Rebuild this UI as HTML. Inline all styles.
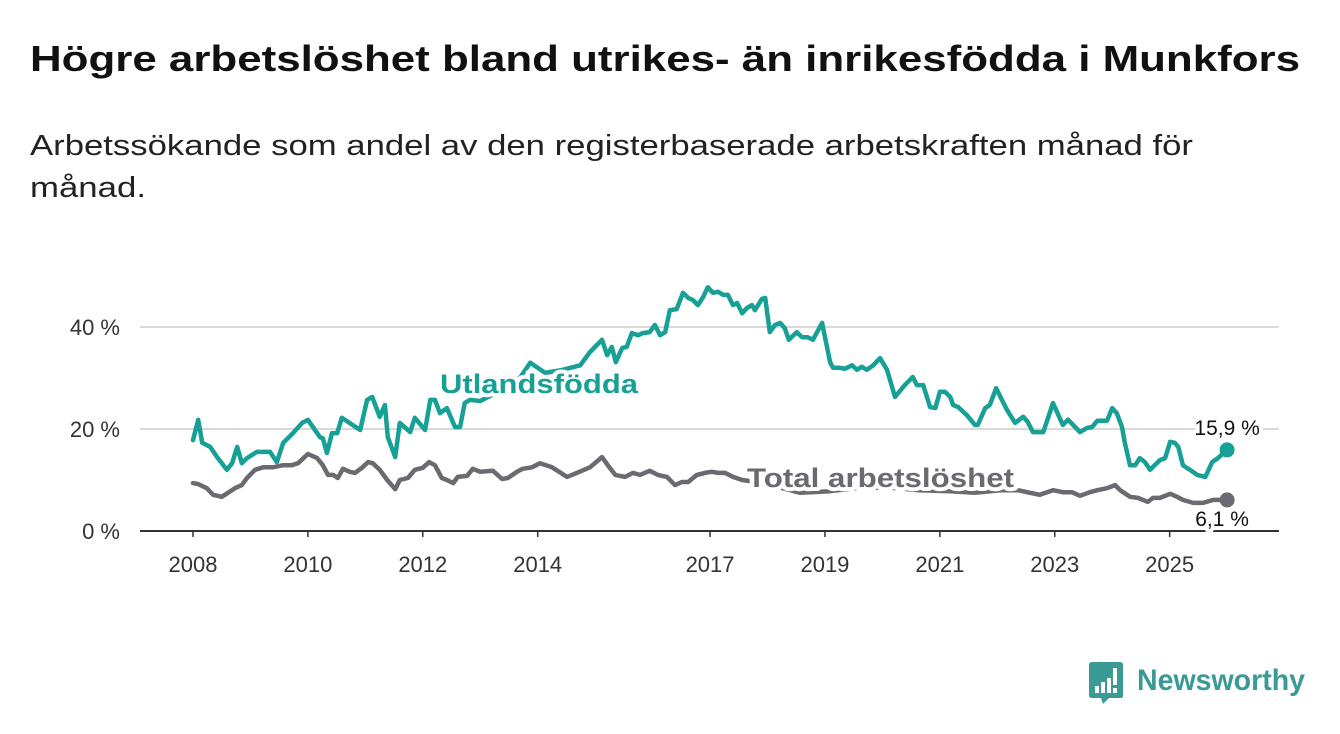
<!DOCTYPE html>
<html><head><meta charset="utf-8"><style>
html,body{margin:0;padding:0;background:#fff;}
svg{display:block;font-family:"Liberation Sans",sans-serif;}
</style></head><body>
<svg width="1340" height="734" viewBox="0 0 1340 734">
<text x="30" y="71" font-size="36" font-weight="bold" fill="#111" textLength="1270" lengthAdjust="spacingAndGlyphs">Högre arbetslöshet bland utrikes- än inrikesfödda i Munkfors</text>
<text x="30" y="155" font-size="29" fill="#222" textLength="1163" lengthAdjust="spacingAndGlyphs">Arbetssökande som andel av den registerbaserade arbetskraften månad för</text>
<text x="30" y="197" font-size="29" fill="#222" textLength="116" lengthAdjust="spacingAndGlyphs">månad.</text>
<g id="grid"></g>
<g id="series"></g>
<g id="labels"></g>
<g transform="translate(1089,662)">
<path d="M0 3 Q0 0 3 0 H31 Q34 0 34 3 V34 Q34 36 32 36 H20 L14 42 L12 36 H3 Q0 36 0 33 Z" fill="#3a9a95"/>
<rect x="6" y="24" width="4" height="7" fill="#fff"/><rect x="12" y="20" width="4" height="11" fill="#fff"/><rect x="18" y="16" width="4" height="15" fill="#fff"/><rect x="24" y="6" width="4" height="17" fill="#fff"/><rect x="24" y="26" width="4" height="5" fill="#fff"/>
<text x="48" y="28" font-size="30" font-weight="bold" fill="#3a9a95" textLength="168" lengthAdjust="spacingAndGlyphs">Newsworthy</text>
</g>
</svg>
<script>
const BASE_YEAR = 2008;
const yTicks = [0, 20, 40];
const yTickLabels = ["0 %", "20 %", "40 %"];
const xTicks = [2008, 2010, 2012, 2014, 2017, 2019, 2021, 2023, 2025];
const foreignT = [0,.09,.16,.30,.42,.59,.68,.77,.85,.94,1.11,1.34,1.46,1.57,1.74,1.90,2.00,2.21,2.26,2.33,2.42,2.51,2.59,2.91,3.03,3.12,3.25,3.34,3.39,3.52,3.60,3.78,3.86,4.04,4.13,4.21,4.30,4.42,4.56,4.65,4.73,4.82,5.00,5.26,5.52,5.69,5.87,6.13,6.39,6.74,6.91,7.12,7.21,7.29,7.36,7.47,7.55,7.64,7.75,7.83,7.95,8.04,8.13,8.22,8.30,8.42,8.53,8.62,8.70,8.79,8.88,8.96,9.05,9.14,9.23,9.31,9.40,9.47,9.56,9.64,9.73,9.78,9.90,9.96,10.04,10.13,10.22,10.30,10.37,10.51,10.60,10.70,10.79,10.95,11.09,11.14,11.26,11.35,11.47,11.56,11.64,11.73,11.84,11.96,12.08,12.22,12.39,12.53,12.60,12.71,12.83,12.92,13.00,13.09,13.18,13.23,13.32,13.47,13.61,13.66,13.79,13.87,13.98,14.08,14.17,14.31,14.45,14.53,14.62,14.80,14.97,15.14,15.23,15.32,15.44,15.56,15.65,15.74,15.91,16.00,16.08,16.17,16.22,16.31,16.40,16.48,16.57,16.66,16.74,16.83,16.92,17.01,17.09,17.15,17.23,17.35,17.48,17.62,17.74,17.84,18.00];
const foreignV = [17.8,21.8,17.3,16.5,14.5,12.0,13.3,16.5,13.3,14.3,15.5,15.5,13.5,17.3,19.2,21.2,21.8,18.4,18.2,15.3,19.2,19.2,22.2,19.8,25.7,26.3,22.4,24.7,18.4,14.5,21.2,19.4,22.2,19.8,25.7,25.7,23.1,24.1,20.4,20.4,25.1,25.7,25.5,27,29,30,33,31,31.5,32.5,35.1,37.5,34.5,36.1,33.1,35.9,36.1,38.8,38.4,38.8,39.0,40.4,38.4,39.0,43.3,43.5,46.7,45.7,45.3,44.3,45.9,47.8,46.7,46.9,46.3,46.3,44.3,44.7,42.7,43.7,44.3,43.3,45.5,45.7,39.0,40.4,40.8,39.8,37.5,39.0,38.0,38.0,37.5,40.8,33.1,32.0,32.0,31.8,32.5,31.6,32.2,31.6,32.5,33.9,31.6,26.3,28.6,30.2,28.6,28.6,24.3,24.1,27.3,27.3,26.3,24.7,24.3,22.7,20.8,20.8,24.1,24.7,28.0,25.7,23.7,21.2,22.4,21.4,19.4,19.4,25.1,20.8,21.8,20.8,19.4,20.2,20.4,21.6,21.6,24.1,23.1,20.4,17.3,12.9,12.9,14.3,13.5,12.0,12.9,13.9,14.3,17.5,17.3,16.5,12.9,12.0,11.0,10.6,13.5,14.3,15.9];
const totalT = [0,.09,.24,.35,.50,.61,.73,.85,.94,1.08,1.22,1.39,1.57,1.72,1.83,2.00,2.16,2.26,2.35,2.44,2.52,2.61,2.73,2.82,2.94,3.05,3.13,3.25,3.38,3.52,3.60,3.74,3.86,4.00,4.11,4.21,4.33,4.42,4.53,4.61,4.77,4.87,5.00,5.22,5.38,5.48,5.64,5.74,5.90,6.04,6.25,6.51,6.68,6.91,7.12,7.22,7.35,7.52,7.66,7.78,7.95,8.09,8.25,8.39,8.51,8.62,8.77,8.91,9.03,9.14,9.26,9.40,9.56,9.87,10.22,10.57,11.09,11.61,12.13,12.65,13.18,13.61,14.05,14.36,14.57,14.74,14.97,15.14,15.30,15.44,15.61,15.74,15.91,16.05,16.14,16.31,16.45,16.62,16.71,16.83,17.01,17.13,17.23,17.41,17.58,17.76,18.00];
const totalV = [9.4,9.2,8.4,7.1,6.7,7.5,8.4,9.0,10.4,12.0,12.5,12.5,12.9,12.9,13.3,15.1,14.3,12.9,11.0,11.0,10.4,12.2,11.6,11.4,12.4,13.5,13.3,12.0,10.0,8.2,10.0,10.4,12.0,12.4,13.5,12.9,10.4,10.0,9.4,10.6,10.8,12.2,11.6,11.8,10.2,10.4,11.6,12.2,12.5,13.3,12.5,10.6,11.4,12.5,14.5,12.9,11.0,10.6,11.4,11.0,11.8,11.0,10.6,9.0,9.6,9.6,11.0,11.4,11.6,11.4,11.4,10.6,10.0,9.5,8.5,7.5,7.8,8.5,8.5,8.0,7.8,7.5,8.0,8.0,7.5,7.1,8.0,7.6,7.6,6.9,7.6,8.0,8.4,9.0,8.0,6.7,6.5,5.7,6.5,6.5,7.3,6.7,6.1,5.5,5.5,6.1,6.1];
const endLabels = ["15,9 %", "6,1 %"];

const NS = "http://www.w3.org/2000/svg";
const X0 = 193, PXY = 57.45, Y0 = 531, PXP = 5.1;
function xScale(yr){ return X0 + (yr - BASE_YEAR) * PXY; }
function yScale(v){ return Y0 - v * PXP; }
function mk(tag, attrs, parent){ const e = document.createElementNS(NS, tag); for (const k in attrs) e.setAttribute(k, attrs[k]); parent.appendChild(e); return e; }

const grid = document.getElementById('grid');
yTicks.forEach((v, i) => {
  if (v > 0) {
    const gl = mk('line', {x1:140, x2:1279, y1:yScale(v), y2:yScale(v), stroke:'#d9d9d9', 'stroke-width':2}, grid);
    
    
  }
  const t = mk('text', {x:120, y:yScale(v) + 8, 'text-anchor':'end', 'font-size':22, fill:'#333'}, grid);
  t.textContent = yTickLabels[i];
  
  
});
const ax = mk('line', {x1:140, x2:1279, y1:Y0, y2:Y0, stroke:'#333', 'stroke-width':2}, grid);


xTicks.forEach(yr => {
  const tk = mk('line', {x1:xScale(yr), x2:xScale(yr), y1:Y0, y2:Y0 + 6, stroke:'#333', 'stroke-width':1.5}, grid);
  
  
  const t = mk('text', {x:xScale(yr), y:572, 'text-anchor':'middle', 'font-size':22, fill:'#333'}, grid);
  t.textContent = yr;
  
  
});

const series = document.getElementById('series');
function drawLine(ts, vs, color, name){
  const d = ts.map((t, i) => (i ? 'L' : 'M') + xScale(BASE_YEAR + t).toFixed(1) + ' ' + yScale(vs[i]).toFixed(1)).join(' ');
  const p = mk('path', {d:d, fill:'none', stroke:color, 'stroke-width':4.5, 'stroke-linejoin':'round', 'stroke-linecap':'round'}, series);
  
  
  const n = ts.length - 1;
  const c = mk('circle', {cx:xScale(BASE_YEAR + ts[n]), cy:yScale(vs[n]), r:7.5, fill:color}, series);
  
  
}
drawLine(totalT, totalV, '#6b6a70', 'total');
drawLine(foreignT, foreignV, '#17a096', 'foreign-born');

const labels = document.getElementById('labels');
function lbl(x, y, txt, color, size, weight, anchor, name, len){
  const a = {x:x, y:y, fill:color, 'font-size':size, 'font-weight':weight, 'text-anchor':anchor, stroke:'#fff', 'stroke-width':8, 'paint-order':'stroke', 'stroke-linejoin':'round'};
  if (len) { a.textLength = len; a.lengthAdjust = 'spacingAndGlyphs'; }
  const t = mk('text', a, labels);
  t.textContent = txt;
  
  
}
lbl(440, 393, 'Utlandsfödda', '#17a096', 27, 'bold', 'start', 'foreign-born-series-label', 198);
lbl(747, 487, 'Total arbetslöshet', '#6b6a70', 27, 'bold', 'start', 'total-series-label', 267);
const nF = foreignT.length - 1, nT = totalT.length - 1;
lbl(xScale(BASE_YEAR + foreignT[nF]), yScale(foreignV[nF]) - 15, endLabels[0], '#111', 21, 'normal', 'middle', 'foreign-born-end-value');
lbl(xScale(BASE_YEAR + totalT[nT]) - 5, yScale(totalV[nT]) + 26, endLabels[1], '#111', 21, 'normal', 'middle', 'total-end-value');
</script>
</body></html>
